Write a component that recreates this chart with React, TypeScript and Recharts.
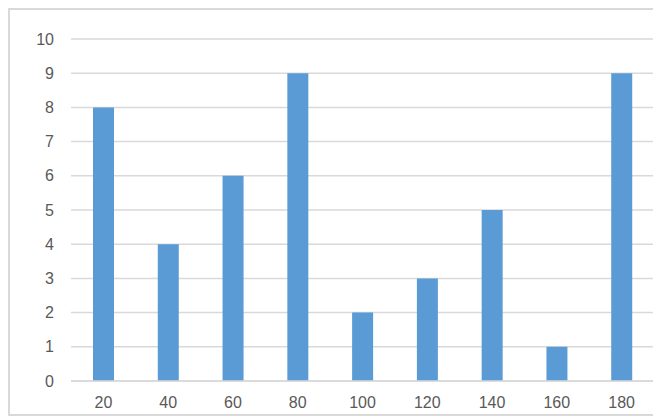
import React from 'react';
import { BarChart, Bar, XAxis, YAxis, CartesianGrid } from 'recharts';

const categories = ['20', '40', '60', '80', '100', '120', '140', '160', '180'];
const values = [8, 4, 6, 9, 2, 3, 5, 1, 9];
const yTicks = [0, 1, 2, 3, 4, 5, 6, 7, 8, 9, 10];

const data = categories.map((name, i) => ({ name, value: values[i] }));

const tickStyle = { fill: '#595959', fontSize: 16, fontFamily: '"Liberation Sans", Arial, sans-serif' };

const App: React.FC = () => {
  return (
    <div
      style={{
        width: 649,
        height: 408,
        border: '2px solid #d9d9d9',
        boxSizing: 'border-box',
        background: '#fff',
      }}
    >
      <BarChart
        width={645}
        height={404}
        data={data}
        margin={{ top: 29, right: 1, bottom: 3, left: 0 }}
      >
        <CartesianGrid vertical={false} stroke="#d9d9d9" strokeWidth={1.5} />
        <XAxis
          dataKey="name"
          height={30}
          axisLine={{ stroke: '#d9d9d9', strokeWidth: 1.5 }}
          tickLine={false}
          tickSize={0}
          tickMargin={16}
          tick={tickStyle}
          interval={0}
        />
        <YAxis
          width={61}
          domain={[0, 10]}
          ticks={yTicks}
          axisLine={false}
          tickLine={false}
          tickSize={0}
          tickMargin={17}
          tick={tickStyle}
          interval={0}
        />
        <Bar dataKey="value" fill="#5b9bd5" barSize={21} isAnimationActive={false} />
      </BarChart>
    </div>
  );
};

export default App;
